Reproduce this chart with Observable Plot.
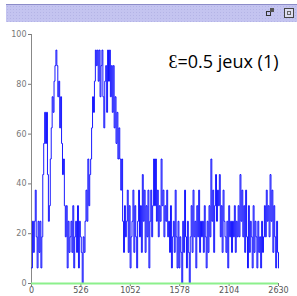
<!DOCTYPE html>
<html>
<head>
<meta charset="utf-8">
<script src="https://cdn.jsdelivr.net/npm/d3@7"></script>
<script src="https://cdn.jsdelivr.net/npm/@observablehq/plot@0.6"></script>
<style>
  html, body { margin: 0; padding: 0; background: #fff; }
  #wrap { position: relative; width: 297px; height: 296px; overflow: hidden; }
  #bar { position: absolute; left: 6px; top: 4px; width: 291px; height: 18px;
         background-color: #c4c4f0;
         background-image: radial-gradient(#b4b4e6 0.6px, transparent 0.8px);
         background-size: 3px 3px;
         border-top: 1px solid #8c8cc8; box-sizing: border-box; }
  #bar .i1 { position: absolute; left: 260px; top: 6px; width: 5px; height: 5px; border: 1px solid #333; box-sizing: border-box; }
  #bar .i1b { position: absolute; left: 264px; top: 3px; width: 4px; height: 4px; background: #555; }
  #bar .i2 { position: absolute; left: 278px; top: 3px; width: 10px; height: 10px; border: 1px solid #444; background: #dcdcf0; box-sizing: border-box; }
  #bar .i2b { position: absolute; left: 281px; top: 6px; width: 4px; height: 4px; border: 1px solid #666; box-sizing: border-box; }
  #chart { position: absolute; left: 0; top: 0; }
</style>
</head>
<body>
<div id="wrap">
  <div id="chart"></div>
  <div id="bar"><div class="i1"></div><div class="i1b"></div><div class="i2"></div><div class="i2b"></div></div>
</div>
<script>
// Series: count out of 16 per sample, one sample every 10 steps (0..2630)
const step = 10;
const counts = [
  1,4,2,4,6,3,1,4,2,4,1,3,
  7,9,11,9,11,
  7,4,5,8,
  10,12,11,13,14,
  15,14,
  12,13,10,12,
  9,7,8,5,
  3,5,1,4,2,3,
  4,2,5,1,3,4,2,5,1,4,3,2,
  0,
  3,2,4,
  6,
  4,8,5,7,8,
  10,12,11,13,
  15,14,15,13,
  15,12,14,15,12,
  10,13,14,
  11,15,13,15,12,14,
  11,14,10,12,
  9,11,8,10,8,
  6,8,4,2,5,
  3,4,6,2,5,1,3,4,6,2,5,3,1,4,6,3,5,2,7,4,6,2,5,3,6,1,4,6,3,5,
  8,5,8,4,
  6,3,5,4,
  8,5,
  6,3,5,4,6,3,
  4,2,5,1,3,4,2,6,3,1,4,
  1,3,2,0,
  4,2,6,3,1,4,2,
  0,3,
  5,2,6,3,4,1,5,3,6,2,4,3,
  4,2,5,3,1,4,2,5,3,8,
  4,6,2,5,
  7,4,6,5,7,
  3,5,2,6,4,3,
  2,4,1,5,3,4,
  2,4,3,5,2,4,3,5,
  3,
  7,
  4,6,3,5,2,6,
  3,1,5,2,4,3,1,5,2,4,
  3,1,4,2,3,1,4,2,3,
  5,3,6,4,5,
  3,
  7,
  4,6,2,5,3,1,4,2,1
];
const total = 16;
const xTicks = [0, 526, 1052, 1578, 2104, 2630];
const yTicks = [0, 20, 40, 60, 80, 100];
const title = "\u0190=0.5 jeux (1)";

const data = counts.map((c, i) => ({t: i * step, v: c * 100 / total}));

const chart = Plot.plot({
  width: 297,
  height: 296,
  marginLeft: 31,
  marginRight: 19,
  marginTop: 34,
  marginBottom: 13,
  style: {fontFamily: "DejaVu Sans", fontSize: "8px", color: "#666", background: "transparent"},
  x: {domain: [0, 2630], label: null},
  y: {domain: [0, 100], label: null},
  marks: [
    Plot.axisY({ticks: yTicks, tickFormat: d => String(d), tickSize: 3, tickPadding: 2, fontSize: 8, fill: "#777", stroke: "#777", label: null}),
    Plot.axisX({ticks: xTicks, tickFormat: d => String(d), tickSize: 3, tickPadding: 1, fontSize: 8, fill: "#555", stroke: "#777", label: null}),
    Plot.ruleX([0], {stroke: "#888", strokeWidth: 1}),
    Plot.line(data, {x: "t", y: "v", stroke: "#0000ff", strokeWidth: 1, curve: "step-after", strokeOpacity: 0.9}),
    Plot.ruleY([0], {stroke: "#8cf08c", strokeWidth: 2}),
    Plot.text([title], {frameAnchor: "top-right", text: d => d, dy: 21, dx: 0,
      fontSize: 18, fontFamily: "Open Sans", fill: "#000", lineAnchor: "top"})
  ]
});
document.getElementById("chart").appendChild(chart);
</script>
</body>
</html>
